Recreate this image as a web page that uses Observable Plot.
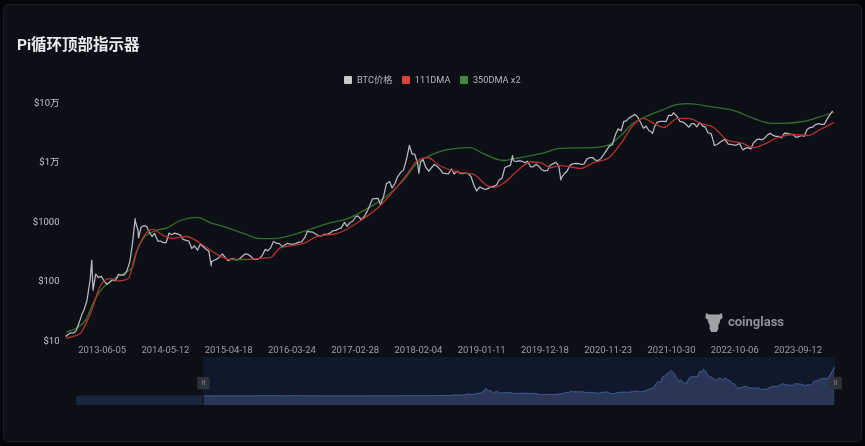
<!DOCTYPE html>
<html>
<head>
<meta charset="utf-8">
<script src="https://cdn.jsdelivr.net/npm/d3@7"></script>
<script src="https://cdn.jsdelivr.net/npm/@observablehq/plot@0.6"></script>
<style>
html,body{margin:0;padding:0;background:#030508;width:865px;height:446px;overflow:hidden}
#card{position:absolute;left:3px;top:4px;width:857px;height:436px;background:#0c0f16;border:1px solid #1a1e26;border-radius:5px}
#title{position:absolute;left:17px;top:35px;font:bold 15.5px/20px Roboto,"Noto Sans CJK SC",sans-serif;color:#e9eaec;filter:blur(.3px)}
#legend{position:absolute;left:344px;top:74px;display:flex;font:9.2px/12px Roboto,"Noto Sans CJK SC",sans-serif;color:#b4b6ba;filter:blur(.3px)}
#legend span.item{display:flex;align-items:center;margin-right:9.5px}
#legend i{display:block;width:8px;height:8px;margin-right:5px;border-radius:1px}
#main,#slider{position:absolute;left:0;filter:blur(.35px)}
#main{top:90px}
#slider{top:350px}
#mark{position:absolute;left:705px;top:311px;display:flex;align-items:center;font:bold 13px/22px Roboto,sans-serif;color:#8e9195;filter:blur(.3px)}
#mark svg{margin-right:5px}
svg{background:transparent!important;overflow:visible}
</style>
</head>
<body>
<div id="card"></div>
<div id="title">Pi循环顶部指示器</div>
<div id="legend"></div>
<div id="mark"><svg width="18" height="21" viewBox="0 0 18 21"><path fill="#a0a2a5" d="M1 1l3 1.500h10L17 1l.6 5-2.200 1.600-.8 3.400-1.400 2.200.3 3.300-1.700 3.500H6.200L4.500 16.500l.3-3.300L3.400 11l-.8-3.400L.4 6z"/></svg>coinglass</div>
<div id="main"></div>
<div id="slider"></div>
<script>
// semi-monthly BTC price (1st and 15th of each month) from 2012-12-01
const priceValues = [
 12.5,13.4,
 13.4,14.5,20,27,34,47,104,90,130,115,120,100,88,95,105,100,130,125,125,145,210,420,1000,720,
 800,850,820,650,560,630,470,470,440,440,640,600,640,620,590,500,480,470,350,390,330,410,380,345,
 315,210,225,235,255,285,245,220,235,235,225,235,260,285,280,260,230,230,240,265,340,320,365,460,
 430,430,375,405,430,415,415,430,450,455,535,680,670,660,610,570,575,610,615,640,700,710,755,780,
 970,830,970,1010,1190,1240,1070,1180,1420,1780,2400,2430,2450,1900,2720,4300,4700,3650,4400,5700,6700,7300,10900,17500,
 13500,13600,9000,10000,10900,8200,7000,8000,9100,8500,7500,6500,6350,6300,7600,6300,7000,6500,6400,6500,6350,5600,4000,3250,
 3800,3600,3450,3600,3850,3900,4100,5000,5400,8000,8500,8800,10500,10200,10400,10300,9700,10300,8300,8300,9200,8500,7400,7100,
 7200,8800,9400,9900,8600,5400,6400,7000,8800,9300,9500,9400,9100,9200,11300,11800,11900,10700,10600,11500,13700,16000,18800,19400,
 29000,36000,33500,48000,49000,55000,59000,63000,57000,47000,37000,40000,33500,32000,40000,47000,48000,48000,48000,61000,61000,65000,57000,48000,
 47000,43000,38500,44000,44000,39000,46000,40500,38500,31000,30000,21000,19500,21000,23000,24000,20000,19700,19300,19300,20500,16800,17000,17400,
 16600,21000,23700,24300,23500,25000,28500,30300,28000,27000,27000,25500,30500,30300,29500,29200,25900,26600,27900,27000,35500,37800,38700,42500,
 44000,43000,43000,52000,62000,71000
];
// extremes between the semi-monthly samples
const spikeDates = ["2012-11-23","2013-04-10","2013-04-17","2013-11-30","2013-12-18","2015-01-14","2017-12-17","2018-02-06","2018-12-15","2019-06-26","2020-03-13","2021-07-20","2021-11-09","2022-06-18","2022-11-21"];
const spikeValues = [11.8,225,70,1120,530,180,19000,6500,3300,12800,5000,30000,67000,19000,16000];

// moving averages, positioned by decimal year
const dma111Years = [2012.90,2013.00,2013.11,2013.18,2013.25,2013.40,2013.53,2013.67,2013.81,2013.92,2014.02,2014.17,2014.33,2014.46,2014.67,2014.88,2015.10,2015.32,2015.54,2015.76,2015.91,2016.06,2016.25,2016.40,2016.60,2016.90,2017.24,2017.53,2017.73,2017.93,2018.08,2018.23,2018.38,2018.72,2018.89,2019.11,2019.20,2019.35,2019.56,2019.75,2019.90,2020.04,2020.19,2020.49,2020.68,2020.89,2021.08,2021.26,2021.40,2021.57,2021.71,2021.92,2022.08,2022.26,2022.45,2022.66,2022.88,2023.04,2023.19,2023.40,2023.63,2023.84,2024.03,2024.22];
const dma111Values = [11,11.7,13.5,19,28,84,110,100,110,290,516,735,580,520,560,427,290,230,230,240,248,365,396,427,560,630,1040,1860,3300,6370,10600,11900,9100,6600,6300,4000,3700,4400,7200,10000,9800,8000,8700,7800,9800,11500,20600,41000,54000,44700,38000,54000,54000,44700,38000,23000,20500,17400,19700,25800,29000,27900,35500,46000];
const dma350Years = [2012.90,2013.06,2013.18,2013.29,2013.40,2013.55,2013.74,2013.87,2013.94,2014.03,2014.18,2014.39,2014.58,2014.83,2015.02,2015.27,2015.51,2015.76,2015.95,2016.40,2016.75,2017.05,2017.34,2017.64,2017.87,2018.08,2018.23,2018.52,2018.86,2019.05,2019.35,2019.60,2019.90,2020.19,2020.68,2020.89,2021.08,2021.26,2021.42,2021.67,2021.92,2022.07,2022.41,2022.75,2023.04,2023.30,2023.49,2023.78,2023.99,2024.22];
const dma350Values = [14,16.5,22,42,69,100,134,170,325,516,680,790,1040,1170,960,790,630,515,515,680,925,1120,1660,2750,4900,9800,12300,16200,17500,13800,10600,11900,13800,17000,17500,19000,27900,44700,56000,73000,93000,96000,85000,73000,54000,44700,44700,48000,56000,68000];

// history before the zoom window, shown only in the slider
const earlyYears = [2010.63,2011.45,2012.0,2012.5];
const earlyValues = [0.06,20,5,7];

const xTicks = ["2013-06-05","2014-05-12","2015-04-18","2016-03-24","2017-02-28","2018-02-04","2019-01-11","2019-12-18","2020-11-23","2021-10-30","2022-10-06","2023-09-12"];
const yTicks = [10,100,1000,10000,100000];
const yTickLabels = ["$10","$100","$1000","$1万","$10万"];
const seriesNames = ["BTC价格","111DMA","350DMA x2"];
const legendColors = ["#c9cbcf","#df4141","#3f8a3a"];
const lineColors = ["#b9bbc0","#b5322f","#33702b"];

const windowStart = 2012.90, windowEnd = 2024.22;
const sliderStart = 2010.625;

const fromYear = y => { const f = Math.floor(y); return new Date(Date.UTC(f,0,1) + (y-f)*365.25*864e5); };
const gridDates = priceValues.map((_, i) => {
  const m = 11 + Math.floor(i/2);
  return new Date(Date.UTC(2012, m, i % 2 ? 15 : 1));
});
const price = priceValues.map((v,i)=>({date:gridDates[i],value:v}))
  .concat(spikeValues.map((v,i)=>({date:new Date(spikeDates[i]),value:v})))
  .sort((a,b)=>a.date-b.date);
const dma111 = dma111Years.map((y,i)=>({date:fromYear(y),value:dma111Values[i]}));
const dma350 = dma350Years.map((y,i)=>({date:fromYear(y),value:dma350Values[i]}));
const font = 'Roboto,"Noto Sans CJK SC",sans-serif';

document.getElementById("legend").innerHTML = seriesNames.map((n,i)=>
  `<span class="item"><i style="background:${legendColors[i]}"></i>${n}</span>`).join("");

const main = Plot.plot({
  width:865, height:270, marginLeft:66, marginRight:32, marginTop:12, marginBottom:20,
  style:{background:"transparent",fontFamily:font},
  x:{type:"utc",domain:[fromYear(windowStart),fromYear(windowEnd)]},
  y:{type:"log",domain:[10,100000]},
  marks:[
    Plot.axisX({ticks:xTicks.map(d=>new Date(d)),tickFormat:d3.utcFormat("%Y-%m-%d"),tickSize:0,tickPadding:6,fontSize:9.5,color:"#9b9ea2",label:null}),
    Plot.axisY({ticks:yTicks,tickFormat:d=>yTickLabels[yTicks.indexOf(d)],tickSize:0,tickPadding:7,fontSize:9.5,color:"#c3c5c8",label:null}),
    Plot.line(dma350,{x:"date",y:"value",stroke:lineColors[2],strokeWidth:1.3,curve:"monotone-x"}),
    Plot.line(price,{x:"date",y:"value",stroke:lineColors[0],strokeWidth:1.25,curve:"linear"}),
    Plot.line(dma111,{x:"date",y:"value",stroke:lineColors[1],strokeWidth:1.3,curve:"monotone-x"})
  ]
});
document.getElementById("main").append(main);

const sliderData = earlyYears.map((y,i)=>({date:fromYear(y),value:earlyValues[i]})).concat(price);
const base = -23700;
const inWindow = sliderData.filter(d=>d.date>=fromYear(windowStart));
const before = sliderData.filter(d=>d.date<=price[0].date);
const slider = Plot.plot({
  width:865, height:60, marginLeft:76, marginRight:30, marginTop:17, marginBottom:5,
  style:{background:"transparent",fontFamily:font},
  x:{type:"utc",domain:[fromYear(sliderStart),fromYear(windowEnd)],axis:null},
  y:{domain:[base,71000],axis:null},
  marks:[
    Plot.rect([0],{x1:()=>fromYear(windowStart),x2:()=>fromYear(windowEnd),y1:()=>base,y2:()=>96000,fill:"#10182b"}),
    Plot.areaY(before,{x:"date",y1:()=>base,y2:"value",fill:"#18263f"}),
    Plot.areaY(inWindow,{x:"date",y1:()=>base,y2:"value",fill:"#2a3655"}),
    Plot.lineY(inWindow,{x:"date",y:"value",stroke:"#3f5c96",strokeWidth:0.9}),
    Plot.dot([windowStart,windowEnd],{x:d=>fromYear(d),y:()=>32000,symbol:"square",r:7,fill:"#2d313c"}),
    Plot.text([windowStart,windowEnd],{x:d=>fromYear(d),y:()=>32000,text:()=>"II",fill:"#8b8f98",fontSize:7})
  ]
});
document.getElementById("slider").append(slider);
</script>
</body>
</html>
